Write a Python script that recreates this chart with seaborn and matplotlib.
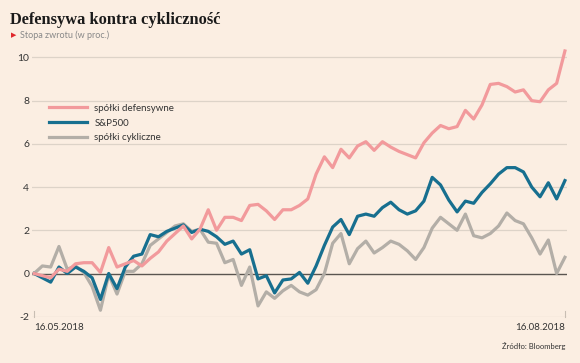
import numpy as np
import pandas as pd
import matplotlib
matplotlib.use("Agg")
import matplotlib.pyplot as plt
import seaborn as sns

# stopa zwrotu (w proc.), sesje od 16.05.2018 do 16.08.2018
defensywne = [0, -0.1, -0.2, 0.2, 0.1, 0.45, 0.5, 0.5, 0.05, 1.2,
              0.3, 0.45, 0.6, 0.35, 0.7, 1.0, 1.5, 1.85, 2.2, 1.6,
              2.05, 2.95, 2.0, 2.6, 2.6, 2.45, 3.15, 3.2, 2.9, 2.5,
              2.95, 2.95, 3.15, 3.45, 4.6, 5.4, 4.9, 5.75, 5.35, 5.9,
              6.1, 5.7, 6.1, 5.85, 5.65, 5.5, 5.35, 6.05, 6.5, 6.85,
              6.7, 6.8, 7.55, 7.15, 7.8, 8.75, 8.8, 8.65, 8.4, 8.5,
              8.0, 7.95, 8.5, 8.8, 10.3]
sp500 = [0, -0.2, -0.4, 0.3, 0.0, 0.3, 0.1, -0.2, -1.2, 0.0,
         -0.7, 0.3, 0.8, 0.9, 1.8, 1.7, 1.95, 2.1, 2.25, 1.9,
         2.05, 1.95, 1.7, 1.35, 1.5, 0.9, 1.1, -0.25, -0.1, -0.9,
         -0.3, -0.25, 0.05, -0.45, 0.35, 1.3, 2.15, 2.5, 1.8, 2.65,
         2.75, 2.65, 3.05, 3.3, 2.95, 2.75, 2.9, 3.35, 4.45, 4.1,
         3.4, 2.85, 3.35, 3.25, 3.75, 4.15, 4.6, 4.9, 4.9, 4.7,
         4.0, 3.55, 4.2, 3.45, 4.3]
cykliczne = [0, 0.35, 0.3, 1.25, 0.2, 0.35, 0.05, -0.6, -1.7, -0.05,
             -0.95, 0.1, 0.1, 0.45, 1.3, 1.6, 1.9, 2.2, 2.3, 1.95,
             2.05, 1.45, 1.4, 0.5, 0.65, -0.55, 0.3, -1.5, -0.85, -1.15,
             -0.8, -0.55, -0.85, -1.0, -0.75, 0.0, 1.4, 1.85, 0.45, 1.15,
             1.5, 0.95, 1.2, 1.5, 1.35, 1.05, 0.65, 1.2, 2.1, 2.6,
             2.3, 2.0, 2.75, 1.75, 1.65, 1.85, 2.2, 2.8, 2.45, 2.3,
             1.65, 0.9, 1.55, 0.0, 0.75]
y_ticks = [-2, 0, 2, 4, 6, 8, 10]
date_labels = ["16.05.2018", "16.08.2018"]

bg = "#fbeee2"
text_col = "#333333"
font = "Lato"

df = pd.DataFrame({
    "sesja": np.arange(len(defensywne)),
    "spółki defensywne": defensywne,
    "S&P500": sp500,
    "spółki cykliczne": cykliczne,
})

fig = plt.figure(figsize=(5.8, 3.63), dpi=100, facecolor=bg)
ax = fig.add_axes([32 / 580, 0.1275, 535 / 580, 0.750])
ax.set_facecolor(bg)

series = [("spółki cykliczne", "#b3aea7", 2),
          ("S&P500", "#176f8f", 3),
          ("spółki defensywne", "#f29a9c", 4)]
for name, col, z in series:
    sns.lineplot(data=df, x="sesja", y=name, color=col, lw=2.3,
                 label=name, zorder=z, ax=ax)

ax.set_xlim(-0.25, len(defensywne) - 0.75)
ax.set_ylim(-2, 10.6)
for t in y_ticks:
    if t == 0:
        ax.axhline(t, color="#5a5550", lw=1.0, zorder=1)
    else:
        ax.axhline(t, color="#ddd3c8", lw=0.9, zorder=1)
ax.set_yticks(y_ticks)
ax.set_yticklabels([str(t) for t in y_ticks], fontfamily=font, fontsize=7.5, color=text_col)
ax.tick_params(axis="y", length=0, pad=2)
ax.set_xticks([])
ax.set_xlabel("")
ax.set_ylabel("")
for s in ax.spines.values():
    s.set_visible(False)

# kreski przy datach
for xi in [0, len(defensywne) - 1]:
    ax.plot([xi, xi], [-2, -1.75], color="#c8beb3", lw=0.8, clip_on=False)

ax.text(0, -2.3, date_labels[0], ha="left", va="top", fontfamily=font,
        fontsize=7, color=text_col)
ax.text(len(defensywne) - 1, -2.3, date_labels[1], ha="right", va="top",
        fontfamily=font, fontsize=7, color=text_col)

handles, labels = ax.get_legend_handles_labels()
order = [labels.index(n) for n in ["spółki defensywne", "S&P500", "spółki cykliczne"]]
leg = ax.legend([handles[i] for i in order], [labels[i] for i in order],
                loc="upper left", bbox_to_anchor=(40 / 580, 1 - 95 / 363),
                bbox_transform=fig.transFigure, frameon=False,
                handlelength=3.9, handletextpad=0.8, labelspacing=0.6,
                prop={"family": font, "size": 7})
for t in leg.get_texts():
    t.set_color(text_col)

fig.text(10 / 580, 1 - 20 / 363, "Defensywa kontra cykliczność", ha="left", va="center",
         fontfamily="Liberation Serif", fontweight="bold", fontsize=11.8, color="#1a1a1a")
fig.text(11 / 580, 1 - 35 / 363, "▶", ha="left", va="center", fontfamily="DejaVu Sans",
         fontsize=5, color="#e0262b")
fig.text(20 / 580, 1 - 35 / 363, "Stopa zwrotu (w proc.)", ha="left", va="center",
         fontfamily=font, fontsize=6.5, color="#888888")
fig.text(566 / 580, 1 - 346 / 363, "Źródło: Bloomberg", ha="right", va="center",
         fontfamily=font, fontsize=5.5, color=text_col)

fig.savefig("out.png", dpi=100, facecolor=bg)
